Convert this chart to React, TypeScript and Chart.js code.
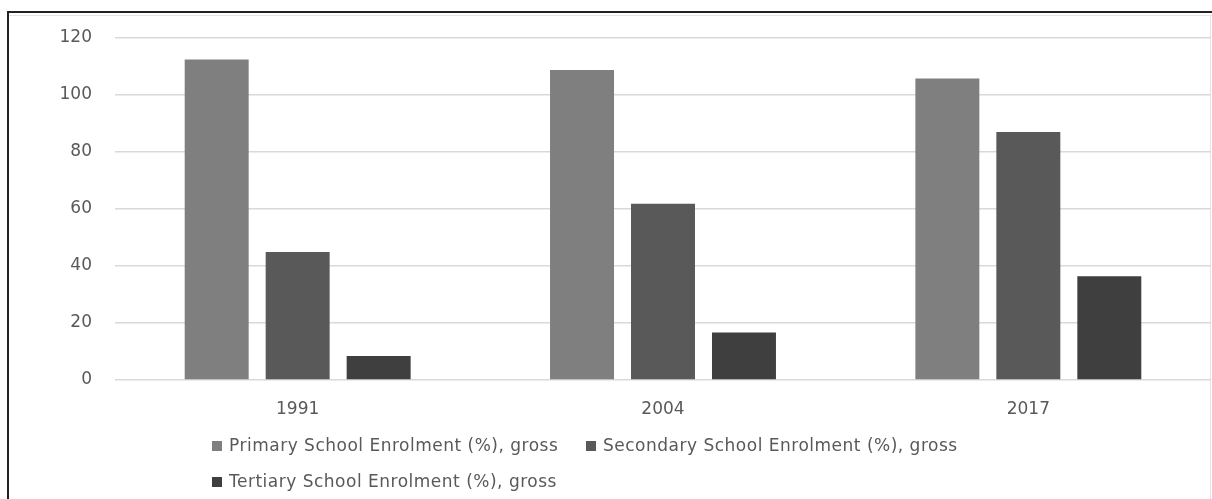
import React, { useEffect, useRef } from "react";
import { Chart, registerables } from "chart.js";

Chart.register(...registerables);

// Enrolment data by year
const years = ["1991", "2004", "2017"];
const primaryEnrolment = [112.5, 108.8, 105.8];
const secondaryEnrolment = [44.9, 61.8, 87.0];
const tertiaryEnrolment = [8.4, 16.7, 36.4];
const seriesLabels = [
  "Primary School Enrolment (%), gross",
  "Secondary School Enrolment (%), gross",
  "Tertiary School Enrolment (%), gross",
];
const seriesColors = ["#7f7f7f", "#595959", "#3f3f3f"];

const FONT = "'DejaVu Sans', sans-serif";
const TEXT_COLOR = "#595959";

// Outer frame of the chart box
const framePlugin = {
  id: "frame",
  beforeDraw(chart: any) {
    const ctx = chart.ctx;
    ctx.save();
    ctx.fillStyle = "#ffffff";
    ctx.fillRect(0, 0, chart.width, chart.height);
    ctx.fillStyle = "#222222";
    ctx.fillRect(7, 11, chart.width - 7, 2);
    ctx.fillRect(7, 11, 2, chart.height - 11);
    ctx.fillStyle = "#e4e4e4";
    ctx.fillRect(9, 15, chart.width - 9, 1);
    ctx.fillRect(chart.width - 2, 15, 1, chart.height - 15);
    ctx.restore();
  },
};

// Legend laid out in equal-width columns, wrapping to a second row
const gridLegendPlugin = {
  id: "gridLegend",
  afterDraw(chart: any) {
    const ctx = chart.ctx;
    const startX = 212;
    const colWidth = 374;
    const rowYs = [446, 482];
    ctx.save();
    ctx.font = `17px ${FONT}`;
    (ctx as any).letterSpacing = "0.5px";
    ctx.textBaseline = "middle";
    ctx.textAlign = "left";
    chart.data.datasets.forEach((ds: any, i: number) => {
      const col = i % 2;
      const row = Math.floor(i / 2);
      const x = startX + col * colWidth;
      const y = rowYs[row];
      ctx.fillStyle = ds.backgroundColor;
      ctx.fillRect(x, y - 5, 10, 10);
      ctx.fillStyle = TEXT_COLOR;
      ctx.fillText(ds.label, x + 17, y + 1);
    });
    ctx.restore();
  },
};

export default function App() {
  const canvasRef = useRef<HTMLCanvasElement | null>(null);

  useEffect(() => {
    if (!canvasRef.current) return;
    const values = [primaryEnrolment, secondaryEnrolment, tertiaryEnrolment];
    const chart = new Chart(canvasRef.current, {
      type: "bar",
      data: {
        labels: years,
        datasets: values.map((v, i) => ({
          label: seriesLabels[i],
          data: v,
          backgroundColor: seriesColors[i],
          borderWidth: 0,
          categoryPercentage: 0.665,
          barPercentage: 0.79,
        })),
      },
      options: {
        animation: false,
        responsive: false,
        maintainAspectRatio: false,
        layout: { padding: { top: 38, right: 1, left: 0, bottom: 0 } },
        plugins: {
          legend: { display: false },
          tooltip: { enabled: false },
        },
        scales: {
          x: {
            grid: { display: false, drawTicks: false },
            border: { display: false },
            ticks: {
              color: TEXT_COLOR,
              font: { family: FONT, size: 17 },
              padding: 19,
            },
            afterFit: (s: any) => {
              s.height = 119;
            },
          },
          y: {
            min: 0,
            max: 120,
            ticks: {
              stepSize: 20,
              color: TEXT_COLOR,
              font: { family: FONT, size: 17 },
              padding: 23,
            },
            grid: { color: "#d9d9d9", lineWidth: 1.5, drawTicks: false },
            border: { display: false },
            afterFit: (s: any) => {
              s.width = 115;
            },
          },
        },
      },
      plugins: [framePlugin, gridLegendPlugin],
    });
    return () => chart.destroy();
  }, []);

  return (
    <div style={{ position: "fixed", left: 0, top: 0, width: 1212, height: 499 }}>
      <canvas ref={canvasRef} width={1212} height={499} style={{ display: "block" }} />
    </div>
  );
}
